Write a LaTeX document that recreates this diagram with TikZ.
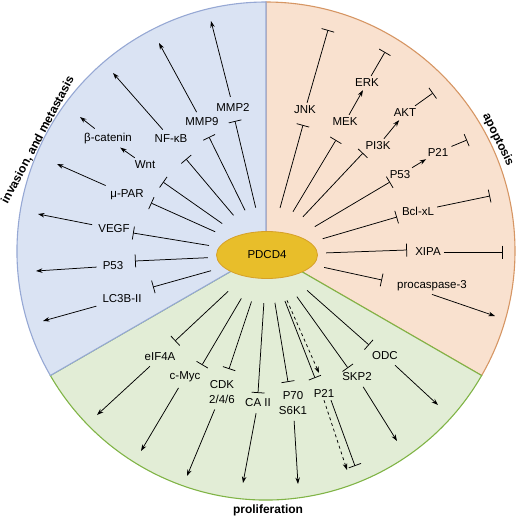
\documentclass[tikz,border=0pt]{standalone}
\usepackage{fontspec}
\setmainfont{Liberation Sans}
\usepackage{tikz}
\usetikzlibrary{positioning, shapes.geometric, arrows.meta}
\usepackage{xcolor}

\definecolor{invfill}{RGB}{218,227,243}
\definecolor{invline}{RGB}{150,168,212}
\definecolor{apofill}{RGB}{249,225,207}
\definecolor{apoline}{RGB}{214,150,100}
\definecolor{profill}{RGB}{226,237,214}
\definecolor{proline}{RGB}{128,180,70}
\definecolor{hubfill}{RGB}{232,190,42}
\definecolor{hubline}{RGB}{214,160,40}

\begin{document}
\begin{tikzpicture}[x=1pt, y=1pt,
  inh/.style={-{Bar[width=13pt]}, line width=0.75pt},
  act/.style={-{Stealth[length=6.5pt, width=4.5pt]}, line width=0.75pt},
  outarrow/.style={act, shorten <=3pt},
  gene/.style={font=\fontsize{11.5}{15}\selectfont, inner sep=3pt, align=center},
  sectitle/.style={font=\bfseries\fontsize{12}{15}\selectfont}]

  \useasboundingbox (0,0) rectangle (520,-520);

  % 子圖形 sectors (類型: sector)
  \begin{scope}[shift={(0.0, 0.0)}]
    % 扇形
    \coordinate (c) at (266,-251);
    \filldraw[fill=apofill, draw=apoline, line width=1.1pt] (c) -- ++(90:249) arc[start angle=90, end angle=-30, radius=249] -- cycle;
    \filldraw[fill=profill, draw=proline, line width=1.1pt] (c) -- ++(-30:249) arc[start angle=-30, end angle=-150, radius=249] -- cycle;
    \filldraw[fill=invfill, draw=invline, line width=1.1pt] (c) -- ++(210:249) arc[start angle=210, end angle=90, radius=249] -- cycle;
  \end{scope}

  % 子圖形 titles (類型: label)
  \begin{scope}[shift={(0.0, 0.0)}]
    % 標籤
    \node[sectitle, rotate=62] (invtitle) at (38,-140) {invasion, and metastasis};
    \node[sectitle, rotate=-64] (apotitle) at (498,-140) {apoptosis};
    \node[sectitle] (protitle) at (268,-510) {proliferation};
  \end{scope}

  % 子圖形 pdcd4 (類型: node)
  \begin{scope}[shift={(0.0, 0.0)}]
    % 中心
    \node[ellipse, fill=hubfill, draw=hubline, line width=0.8pt, minimum width=101pt, minimum height=47pt, gene] (pdcd4) at (267,-255) {PDCD4};
    \node[ellipse, minimum width=118pt, minimum height=96pt, inner sep=0pt] (rim) at (pdcd4.center) {};
  \end{scope}

  % 子圖形 invasion (類型: pathway)
  \begin{scope}[shift={(0.0, 0.0)}]
    % 標籤
    \node[gene] (mmp2) at (233,-107) {MMP2};
    \node[gene] (mmp9) at (202,-122) {MMP9};
    \node[gene] (nfkb) at (171,-139) {NF-κB};
    \node[gene] (wnt) at (145,-165) {Wnt};
    \node[gene] (bcat) at (108,-139) {β-catenin};
    \node[gene] (upar) at (127,-195) {μ-PAR};
    \node[gene] (vegf) at (114,-229) {VEGF};
    \node[gene] (p53L) at (113,-266) {P53};
    \node[gene] (lc3b) at (122,-299) {LC3B-II};
    % 端點
    \coordinate (mmp2T) at (235,-121);
    \coordinate (mmp9T) at (209,-137);
    \coordinate (nfkbT) at (186,-159);
    \coordinate (wntT) at (163,-182);
    \coordinate (uparT) at (151,-203);
    \coordinate (vegfT) at (133,-233);
    \coordinate (p53LT) at (135,-261);
    \coordinate (lc3bT) at (153,-287);
    \coordinate (mmp2E) at (211,-21);
    \coordinate (mmp9E) at (159,-43);
    \coordinate (nfkbE) at (113,-73);
    \coordinate (bcatE) at (80,-117);
    \coordinate (uparE) at (57,-164);
    \coordinate (vegfE) at (38,-214);
    \coordinate (p53LE) at (36,-271);
    \coordinate (lc3bE) at (43,-321);
    % 線段
    \draw[inh] (rim) -- (mmp2T);
    \draw[inh] (rim) -- (mmp9T);
    \draw[inh] (rim) -- (nfkbT);
    \draw[inh] (rim) -- (wntT);
    \draw[inh] (rim) -- (uparT);
    \draw[inh] (rim) -- (vegfT);
    \draw[inh] (rim) -- (p53LT);
    \draw[inh] (rim) -- (lc3bT);
    \draw[outarrow] (mmp2) -- (mmp2E);
    \draw[outarrow] (mmp9) -- (mmp9E);
    \draw[outarrow] (nfkb) -- (nfkbE);
    \draw[act] (wnt) -- (bcat);
    \draw[outarrow] (bcat) -- (bcatE);
    \draw[outarrow] (upar) -- (uparE);
    \draw[outarrow] (vegf) -- (vegfE);
    \draw[outarrow] (p53L) -- (p53LE);
    \draw[outarrow] (lc3b) -- (lc3bE);
  \end{scope}

  % 子圖形 apoptosis (類型: pathway)
  \begin{scope}[shift={(0.0, 0.0)}]
    % 標籤
    \node[gene] (jnk) at (305,-110) {JNK};
    \node[gene] (mek) at (345,-122) {MEK};
    \node[gene] (erk) at (367,-83) {ERK};
    \node[gene] (pi3k) at (378,-146) {PI3K};
    \node[gene] (akt) at (405,-113) {AKT};
    \node[gene] (p53R) at (400,-175) {P53};
    \node[gene] (p21R) at (438,-152) {P21};
    \node[gene] (bcl) at (418,-211) {Bcl-xL};
    \node[gene] (xipa) at (428,-252) {XIPA};
    \node[gene] (casp) at (432,-286) {procaspase-3};
    % 端點
    \coordinate (jnkT) at (303,-125);
    \coordinate (jnkT2) at (328,-30);
    \coordinate (mekT) at (336,-140);
    \coordinate (erkT) at (385,-52);
    \coordinate (pi3kT) at (363,-153);
    \coordinate (aktT) at (433,-93);
    \coordinate (p53RT) at (390,-182);
    \coordinate (p21RT) at (467,-140);
    \coordinate (bclT) at (397,-217);
    \coordinate (bclT2) at (490,-196);
    \coordinate (xipaT) at (407,-250);
    \coordinate (xipaT2) at (503,-252);
    \coordinate (caspT) at (382,-280);
    \coordinate (caspE) at (495,-316);
    % 線段
    \draw[inh] (rim) -- (jnkT);
    \draw[inh] (jnk) -- (jnkT2);
    \draw[inh] (rim) -- (mekT);
    \draw[act] (mek) -- (erk);
    \draw[inh] (erk) -- (erkT);
    \draw[inh] (rim) -- (pi3kT);
    \draw[act] (pi3k) -- (akt);
    \draw[inh] (akt) -- (aktT);
    \draw[inh] (rim) -- (p53RT);
    \draw[act] (p53R) -- (p21R);
    \draw[inh] (p21R) -- (p21RT);
    \draw[inh] (rim) -- (bclT);
    \draw[inh] (bcl) -- (bclT2);
    \draw[inh] (rim) -- (xipaT);
    \draw[inh] (xipa) -- (xipaT2);
    \draw[inh] (rim) -- (caspT);
    \draw[act] (casp.south) -- (caspE);
  \end{scope}

  % 子圖形 proliferation (類型: pathway)
  \begin{scope}[shift={(0.0, 0.0)}]
    % 標籤
    \node[gene] (eif4a) at (160,-357) {eIF4A};
    \node[gene] (cmyc) at (185,-377) {c-Myc};
    \node[gene] (cdk) at (222,-392) {CDK\\2/4/6};
    \node[gene] (ca2) at (258,-403) {CA II};
    \node[gene] (p70) at (293,-403) {P70\\S6K1};
    \node[gene] (p21B) at (324,-393) {P21};
    \node[gene] (skp2) at (357,-377) {SKP2};
    \node[gene] (odc) at (385,-356) {ODC};
    % 端點
    \coordinate (eif4aT) at (175,-341);
    \coordinate (cmycT) at (202,-365);
    \coordinate (cdkT) at (229,-369);
    \coordinate (ca2T) at (258,-393);
    \coordinate (p70T) at (288,-382);
    \coordinate (p21T) at (315,-378);
    \coordinate (p21A) at (319,-373);
    \coordinate (skp2T) at (348,-368);
    \coordinate (odcT) at (369,-345);
    \coordinate (p21T2) at (355,-466);
    \coordinate (p21A2) at (347,-470);
    \coordinate (eif4aE) at (97,-415);
    \coordinate (cmycE) at (141,-451);
    \coordinate (cdkE) at (187,-476);
    \coordinate (ca2E) at (243,-483);
    \coordinate (p70E) at (298,-484);
    \coordinate (skp2E) at (397,-441);
    \coordinate (odcE) at (438,-405);
    % 線段
    \draw[inh] (rim) -- (eif4aT);
    \draw[inh] (rim) -- (cmycT);
    \draw[inh] (rim) -- (cdkT);
    \draw[inh] (rim) -- (ca2T);
    \draw[inh] (rim) -- (p70T);
    \draw[inh] (rim) -- (p21T);
    \draw[act, dashed] (rim) -- (p21A);
    \draw[inh] (rim) -- (skp2T);
    \draw[inh] (rim) -- (odcT);
    \draw[outarrow] (eif4a) -- (eif4aE);
    \draw[outarrow] (cmyc) -- (cmycE);
    \draw[outarrow] (cdk) -- (cdkE);
    \draw[outarrow] (ca2) -- (ca2E);
    \draw[outarrow] (p70) -- (p70E);
    \draw[inh] ([xshift=7pt]p21B.south) -- (p21T2);
    \draw[act, dashed] (p21B.south) -- (p21A2);
    \draw[outarrow] (skp2) -- (skp2E);
    \draw[outarrow] (odc) -- (odcE);
  \end{scope}
\end{tikzpicture}
\end{document}
